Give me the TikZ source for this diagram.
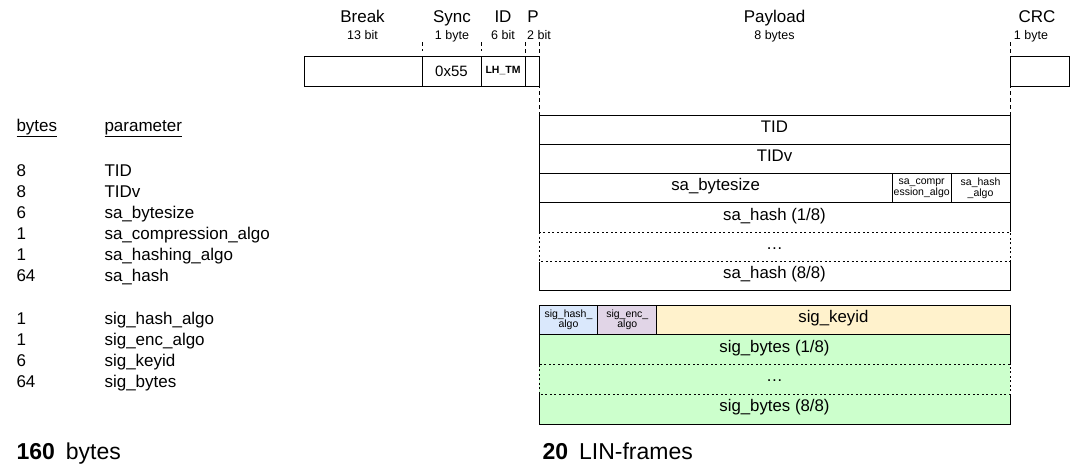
\documentclass[tikz,border=0pt]{standalone}
\usepackage{fontspec}
\setmainfont{Liberation Sans}
\definecolor{cblue}{HTML}{DAE8FC}
\definecolor{cpurple}{HTML}{E1D5E7}
\definecolor{cyellow}{HTML}{FFF2CC}
\definecolor{cgreen}{HTML}{CCFFCC}
\begin{document}
\begin{tikzpicture}[x=1pt,y=-1pt,
  box/.style={anchor=north west, inner sep=0pt, outer sep=0pt, line width=1pt},
  cell/.style={box, draw, font=\fontsize{16.8}{18}\selectfont, text height=0.72em, text depth=0.2em},
  plain/.style={box, font=\fontsize{16.8}{18}\selectfont, text height=0.72em, text depth=0.2em},
  small/.style={box, draw, font=\fontsize{10.5}{10.5}\selectfont, align=center},
  ttl/.style={anchor=base, font=\fontsize{17}{19}\selectfont},
  sub/.style={anchor=base, font=\fontsize{12.5}{14}\selectfont},
  tab/.style={anchor=base west, font=\fontsize{17}{19}\selectfont},
  big/.style={anchor=base west, font=\fontsize{23}{26}\selectfont},
  tick/.style={line width=1pt, dash pattern=on 4pt off 3pt},
  dline/.style={line width=1pt, dash pattern=on 2pt off 2.5pt},
  sline/.style={line width=1pt}
]
\useasboundingbox (0,0) rectangle (1071,466);

% ---- frame header ----
\node[box, draw, minimum width=118pt, minimum height=30pt] (brk) at (304,56) {};
\node[box, draw, minimum width=59pt, minimum height=30pt, font=\fontsize{15}{16}\selectfont] (syn) at (422,56) {0x55};
\node[box, draw, minimum width=44pt, minimum height=30pt, font=\fontsize{10.5}{11}\selectfont\bfseries] (idb) at (481,56) {LH\_TM};
\node[box, draw, minimum width=14pt, minimum height=30pt] (par) at (525,56) {};
\node[box, draw, minimum width=59pt, minimum height=30pt] (crc) at (1010,56) {};

\node[ttl] (tbrk) at (362.5,22) {Break};
\node[sub] (sbrk) at (362.5,39) {13 bit};
\node[ttl] (tsyn) at (452,22) {Sync};
\node[sub] (ssyn) at (452,39) {1 byte};
\node[ttl] (tid0) at (503,22) {ID};
\node[sub] (sid0) at (503,39) {6 bit};
\node[ttl] (tpar) at (533,22) {P};
\node[sub] (spar) at (539,39) {2 bit};
\node[ttl] (tpay) at (774.5,22) {Payload};
\node[sub] (spay) at (774.5,39) {8 bytes};
\node[ttl] (tcrc) at (1037,22) {CRC};
\node[sub] (scrc) at (1031,39) {1 byte};

\coordinate (k1a) at (422,42); \coordinate (k1b) at (422,51);
\coordinate (k2a) at (481,42); \coordinate (k2b) at (481,51);
\coordinate (k3a) at (525,42); \coordinate (k3b) at (525,56);
\coordinate (k4a) at (539,42); \coordinate (k4b) at (539,115);
\coordinate (k5a) at (1010,42); \coordinate (k5b) at (1010,115);
\draw[tick] (k1a) -- (k1b);
\draw[tick] (k2a) -- (k2b);
\draw[tick] (k3a) -- (k3b);
\draw[tick] (k4a) -- (k4b);
\draw[tick] (k5a) -- (k5b);

% ---- payload rows ----
\node[cell, minimum width=471pt, minimum height=29.3pt] (tid) at (539,115) {TID};
\node[cell, minimum width=471pt, minimum height=29.3pt] (tidv) at (539,144.3) {TIDv};
\node[cell, minimum width=353.25pt, minimum height=29.3pt] (sab) at (539,173.6) {sa\_bytesize};
\node[small, minimum width=58.875pt, minimum height=29.3pt] (sac) at (892.25,173.6) {sa\_compr\\ession\_algo};
\node[small, minimum width=58.875pt, minimum height=29.3pt] (sah) at (951.125,173.6) {sa\_hash\\\_algo};
\node[plain, minimum width=471pt, minimum height=29.3pt] (sh1) at (539,202.9) {sa\_hash (1/8)};
\node[plain, minimum width=471pt, minimum height=29.3pt] (shd) at (539,232.2) {\dots};
\node[plain, minimum width=471pt, minimum height=29.3pt] (sh8) at (539,261.5) {sa\_hash (8/8)};
\draw[sline] (sh1.south west) -- (sh1.north west) -- (sh1.north east) -- (sh1.south east);
\draw[dline] (shd.north west) rectangle (shd.south east);
\draw[sline] (sh8.north west) -- (sh8.south west) -- (sh8.south east) -- (sh8.north east);

% ---- signature rows ----
\node[small, fill=cblue, minimum width=58.875pt, minimum height=29.75pt] (sgh) at (539,305) {sig\_hash\_\\algo};
\node[small, fill=cpurple, minimum width=58.875pt, minimum height=29.75pt] (sge) at (597.875,305) {sig\_enc\_\\algo};
\node[cell, fill=cyellow, minimum width=353.25pt, minimum height=29.75pt] (sgk) at (656.75,305) {sig\_keyid};
\node[plain, fill=cgreen, minimum width=471pt, minimum height=29.75pt] (sb1) at (539,334.75) {sig\_bytes (1/8)};
\node[plain, fill=cgreen, minimum width=471pt, minimum height=29.75pt] (sbd) at (539,364.5) {\dots};
\node[plain, fill=cgreen, minimum width=471pt, minimum height=29.75pt] (sb8) at (539,394.25) {sig\_bytes (8/8)};
\draw[sline] (sb1.south west) -- (sb1.north west) -- (sb1.north east) -- (sb1.south east);
\draw[dline] (sbd.north west) rectangle (sbd.south east);
\draw[sline] (sb8.north west) -- (sb8.south west) -- (sb8.south east) -- (sb8.north east);

% ---- table ----
\node[tab] (hb) at (13,131) {\underline{bytes}};
\node[tab] (hp) at (101,131) {\underline{parameter}};
\node[tab] (b1) at (13,176) {8};   \node[tab] (p1) at (101,176) {TID};
\node[tab] (b2) at (13,197) {8};   \node[tab] (p2) at (101,197) {TIDv};
\node[tab] (b3) at (13,218) {6};   \node[tab] (p3) at (101,218) {sa\_bytesize};
\node[tab] (b4) at (13,239) {1};   \node[tab] (p4) at (101,239) {sa\_compression\_algo};
\node[tab] (b5) at (13,260) {1};   \node[tab] (p5) at (101,260) {sa\_hashing\_algo};
\node[tab] (b6) at (13,281) {64};  \node[tab] (p6) at (101,281) {sa\_hash};
\node[tab] (b7) at (13,324) {1};   \node[tab] (p7) at (101,324) {sig\_hash\_algo};
\node[tab] (b8) at (13,345) {1};   \node[tab] (p8) at (101,345) {sig\_enc\_algo};
\node[tab] (b9) at (13,366) {6};   \node[tab] (p9) at (101,366) {sig\_keyid};
\node[tab] (b10) at (13,387) {64}; \node[tab] (p10) at (101,387) {sig\_bytes};

% ---- totals ----
\node[big] (tot1) at (13,459) {\textbf{160}\hspace{11pt}bytes};
\node[big] (tot2) at (539,459) {\textbf{20}\hspace{11pt}LIN-frames};
\end{tikzpicture}
\end{document}
